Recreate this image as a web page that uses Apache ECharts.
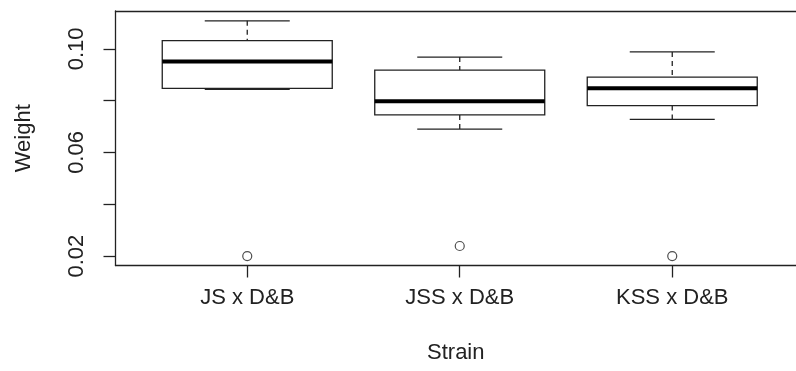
<!DOCTYPE html>
<html>
<head>
<meta charset="utf-8">
<script src="https://cdn.jsdelivr.net/npm/echarts@6/dist/echarts.min.js"></script>
<style>
html,body{margin:0;padding:0;background:#fff;}
#chart{width:796px;height:371px;}
</style>
</head>
<body>
<div id="chart"></div>
<script>
const categories = ['JS x D&B', 'JSS x D&B', 'KSS x D&B'];
const positions = [1, 2, 3];
const whiskerLow = [0.0844, 0.0690, 0.0728];
const q1 = [0.0847, 0.0745, 0.0781];
const medians = [0.0951, 0.0798, 0.0848];
const q3 = [0.1032, 0.0918, 0.0891];
const whiskerHigh = [0.1108, 0.0968, 0.0988];
const outliers = [0.0200, 0.0239, 0.0200];
const yTicks = [0.02, 0.04, 0.06, 0.08, 0.10];
const yLabels = [0.02, 0.06, 0.10];

const INK = '#222';
const FONT = 'Liberation Sans';
const X_MIN = 0.38, X_MAX = 3.5824;

const boxData = positions.map((p, i) => [p, whiskerLow[i], q1[i], medians[i], q3[i], whiskerHigh[i]]);
const outlierData = positions.map((p, i) => [p, outliers[i]]);

const chart = echarts.init(document.getElementById('chart'), null, {renderer: 'canvas'});

function renderBox(params, api) {
  const x = api.value(0);
  const lo = api.value(1), a = api.value(2), m = api.value(3), b = api.value(4), hi = api.value(5);
  const w = api.size([0.8, 0])[0];
  const hw = w / 2, cw = w / 4;
  const pLo = api.coord([x, lo]);
  const pA = api.coord([x, a]);
  const pM = api.coord([x, m]);
  const pB = api.coord([x, b]);
  const pHi = api.coord([x, hi]);
  const cx = pM[0];
  const lineStyle = {stroke: INK, lineWidth: 1.3};
  const dash = {stroke: INK, lineWidth: 1.3, lineDash: [5, 4]};
  return {
    type: 'group',
    children: [
      {type: 'line', shape: {x1: cx, y1: pHi[1], x2: cx, y2: pB[1]}, style: dash},
      {type: 'line', shape: {x1: cx, y1: pA[1], x2: cx, y2: pLo[1]}, style: dash},
      {type: 'line', shape: {x1: cx - cw, y1: pHi[1], x2: cx + cw, y2: pHi[1]}, style: lineStyle},
      {type: 'line', shape: {x1: cx - cw, y1: pLo[1], x2: cx + cw, y2: pLo[1]}, style: lineStyle},
      {type: 'rect', shape: {x: cx - hw, y: pB[1], width: w, height: pA[1] - pB[1]}, style: {fill: '#fff', stroke: INK, lineWidth: 1.3}},
      {type: 'line', shape: {x1: cx - hw, y1: pM[1], x2: cx + hw, y2: pM[1]}, style: {stroke: '#000', lineWidth: 4}}
    ]
  };
}

chart.setOption({
  animation: false,
  backgroundColor: '#fff',
  grid: {
    left: 115.5, right: 0, top: 11, bottom: 105.5,
    show: false
  },
  xAxis: [{
    type: 'value', min: X_MIN, max: X_MAX, position: 'bottom',
    name: 'Strain', nameLocation: 'middle', nameGap: 76,
    nameTextStyle: {fontFamily: FONT, fontSize: 22, color: INK},
    axisLine: {show: true, onZero: false, lineStyle: {color: INK, width: 1.3}},
    axisTick: {show: true, length: 12, customValues: positions, lineStyle: {color: INK, width: 1.3}},
    axisLabel: {
      show: true, margin: 21, customValues: positions,
      fontFamily: FONT, fontSize: 22, color: INK,
      formatter: v => categories[Math.round(v) - 1]
    },
    splitLine: {show: false}
  }, {
    type: 'value', min: X_MIN, max: X_MAX, position: 'top',
    axisLine: {show: true, onZero: false, lineStyle: {color: INK, width: 1.3}},
    axisTick: {show: false},
    axisLabel: {show: false},
    splitLine: {show: false}
  }],
  yAxis: {
    type: 'value', min: 0.01637, max: 0.1146,
    name: 'Weight', nameLocation: 'middle', nameGap: 81, nameRotate: 90,
    nameTextStyle: {fontFamily: FONT, fontSize: 22, color: INK},
    axisLine: {show: true, onZero: false, lineStyle: {color: INK, width: 1.3}},
    axisTick: {show: true, length: 12, customValues: yTicks, lineStyle: {color: INK, width: 1.3}},
    axisLabel: {
      show: true, rotate: 90, margin: 28, customValues: yLabels,
      fontFamily: FONT, fontSize: 22, color: INK,
      formatter: v => v.toFixed(2)
    },
    splitLine: {show: false}
  },
  series: [
    {
      type: 'custom',
      renderItem: renderBox,
      data: boxData,
      encode: {x: 0, y: [1, 2, 3, 4, 5]},
      z: 2
    },
    {
      type: 'scatter',
      data: outlierData,
      symbol: 'circle',
      symbolSize: 9,
      itemStyle: {color: '#fff', borderColor: INK, borderWidth: 1.2},
      z: 3
    }
  ]
});
</script>
</body>
</html>
